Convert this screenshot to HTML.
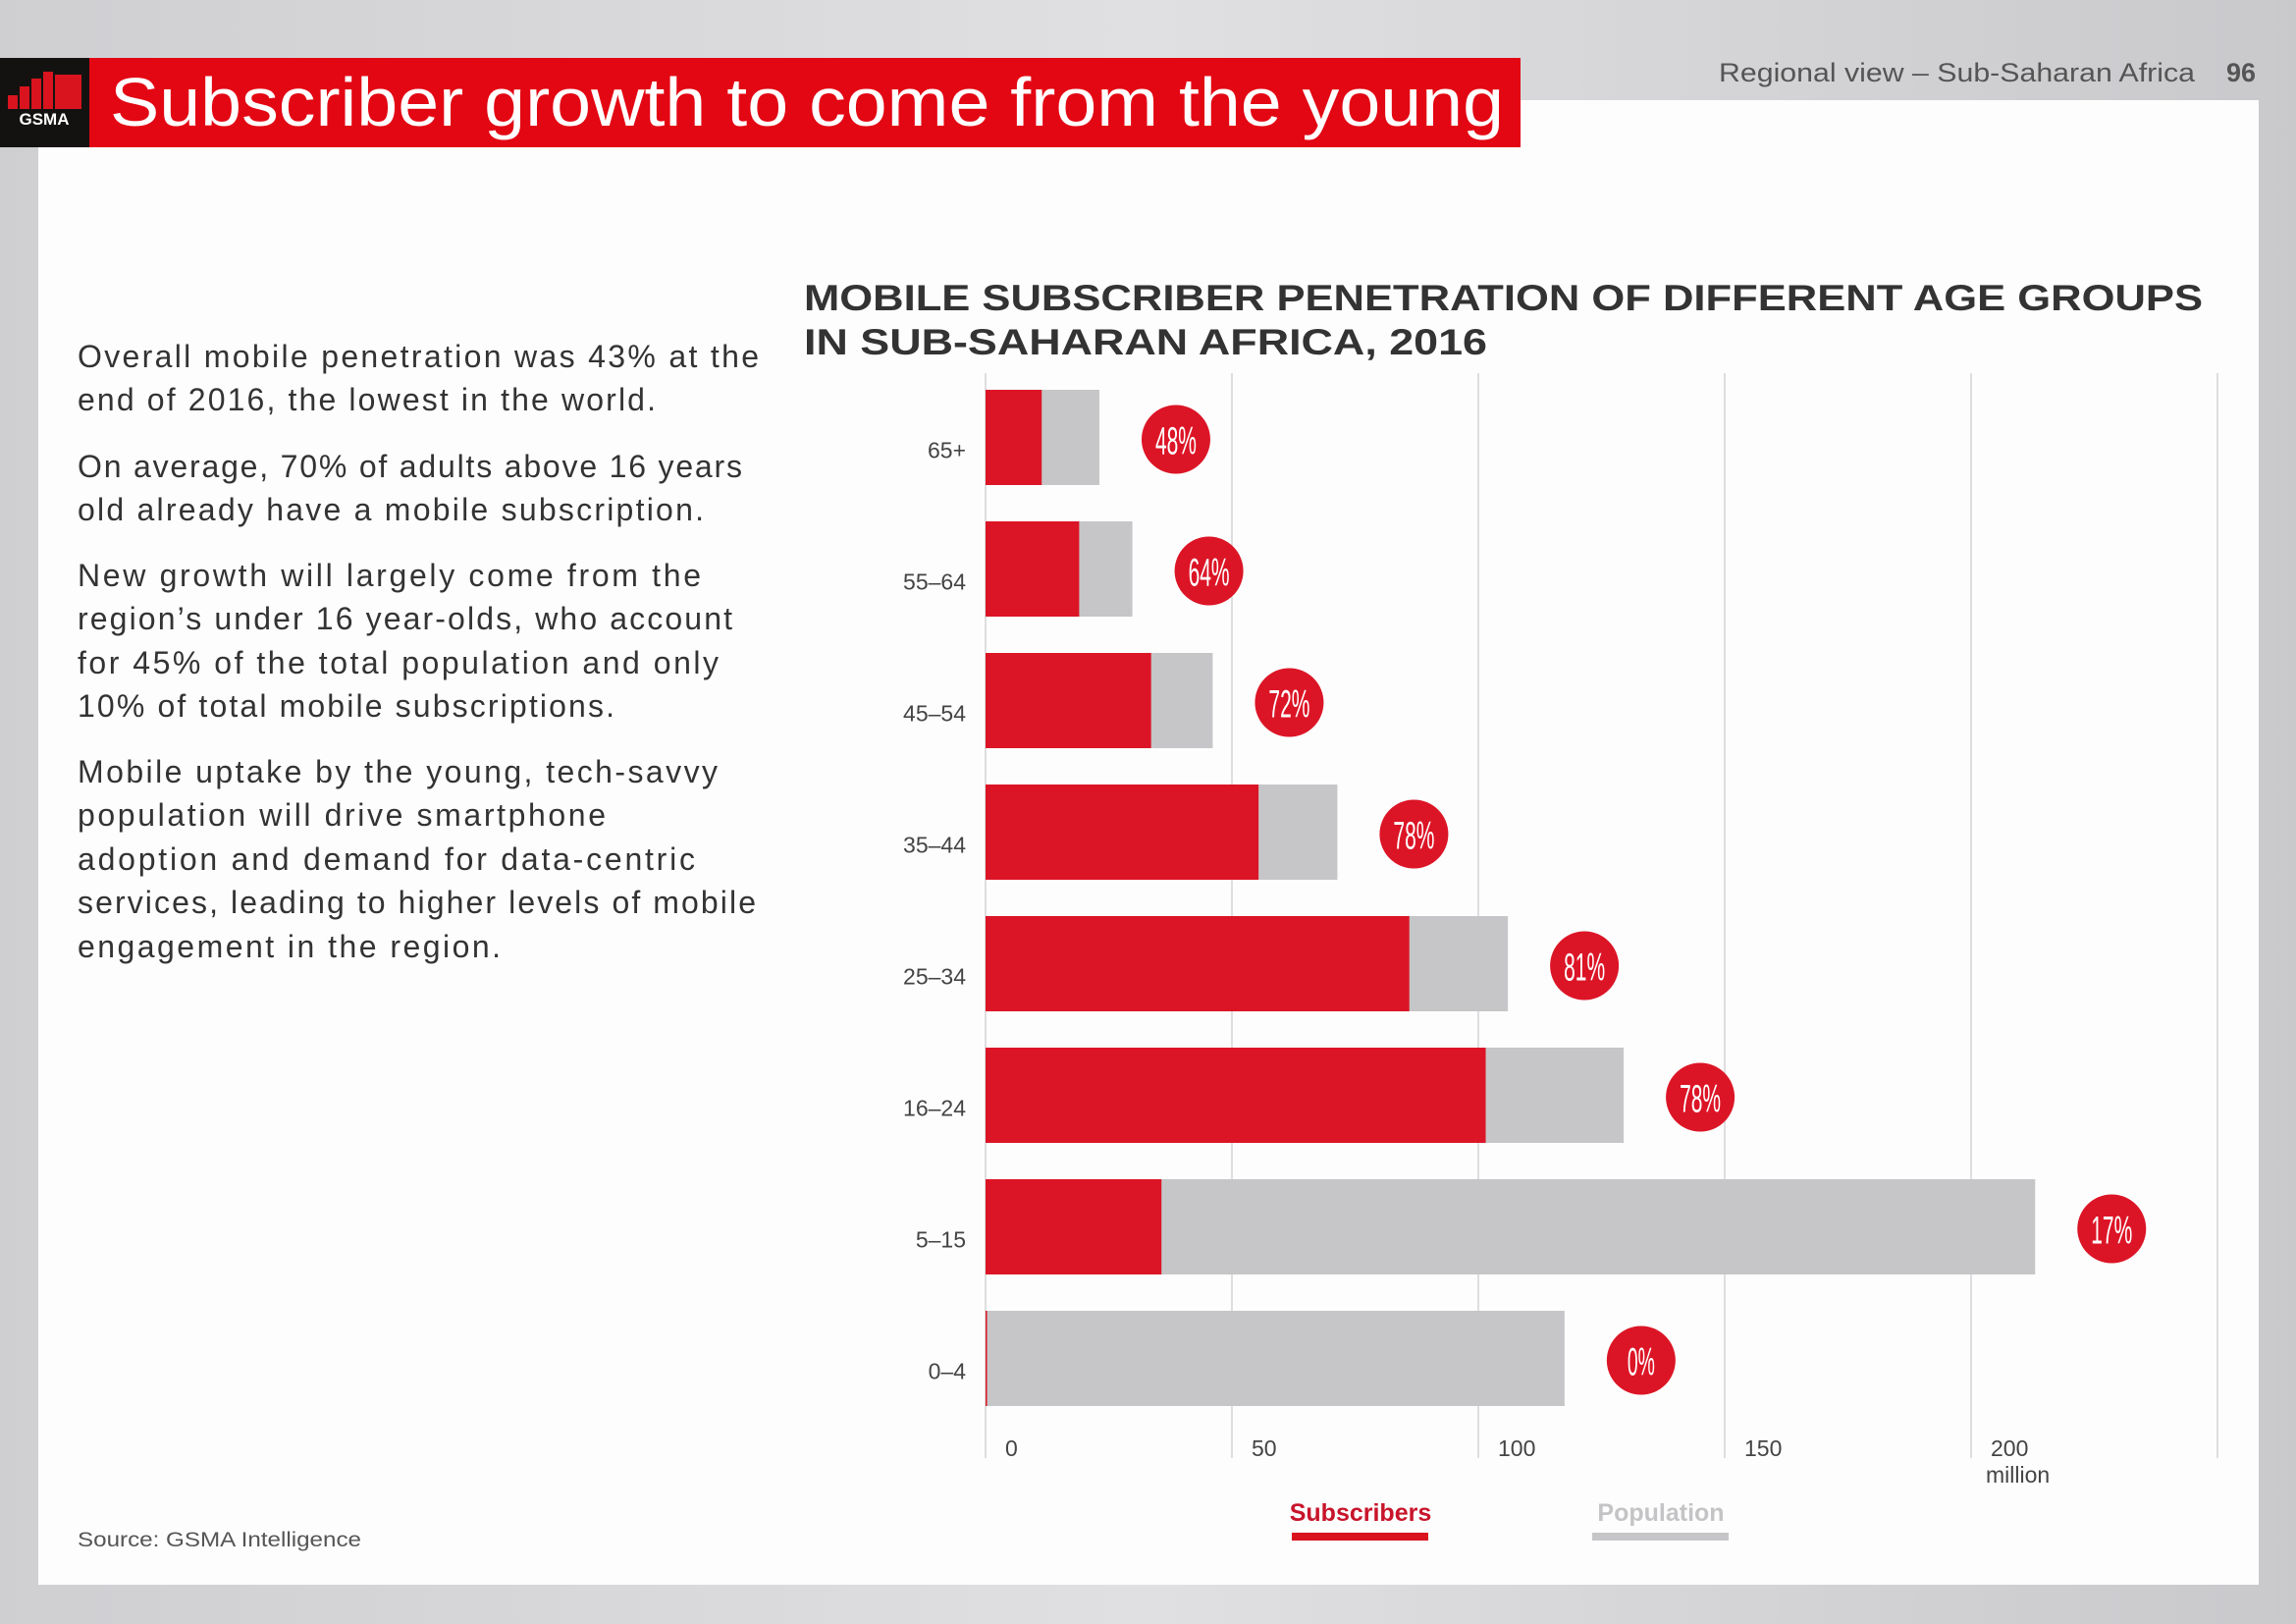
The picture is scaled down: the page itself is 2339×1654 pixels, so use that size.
<!DOCTYPE html>
<html><head><meta charset="utf-8"><style>
html,body{margin:0;padding:0;width:2339px;height:1654px;overflow:hidden;background:#d6d6d9;}
svg{display:block;font-family:"Liberation Sans",sans-serif;}
</style></head><body>
<svg id="pg" width="2339" height="1654" viewBox="0 0 2339 1654">
<defs><linearGradient id="bg" x1="0" y1="0" x2="1" y2="0"><stop offset="0" stop-color="#cfcfd2"/><stop offset="0.5" stop-color="#e0e0e2"/><stop offset="1" stop-color="#c9c9cc"/></linearGradient></defs>
<rect width="2339" height="1654" fill="url(#bg)"/>
<rect x="39" y="102" width="2262" height="1512" fill="#fdfdfd"/>
<g>
<rect x="0" y="59" width="91" height="91" fill="#141210"/>
<g fill="#d9141f"><rect x="8" y="97" width="10" height="14"/><rect x="20" y="88" width="10" height="23"/><rect x="32" y="80" width="10" height="31"/><rect x="44" y="73" width="10" height="38"/><rect x="56" y="76" width="27" height="35"/></g>
<text x="45" y="127" font-size="17" font-weight="bold" fill="#fff" text-anchor="middle">GSMA</text>
<rect x="91" y="59" width="1458" height="91" fill="#e30613"/>
<text x="112" y="128" font-size="70" fill="#fff" textLength="1420" lengthAdjust="spacingAndGlyphs">Subscriber growth to come from the young</text>
</g>
<text x="1751" y="83" font-size="27" fill="#555" textLength="485" lengthAdjust="spacingAndGlyphs">Regional view – Sub-Saharan Africa</text>
<text x="2298" y="83" font-size="27" font-weight="bold" fill="#555" text-anchor="end">96</text>
<g font-size="32" fill="#333" lengthAdjust="spacingAndGlyphs">
<text x="79" y="374" textLength="694">Overall mobile penetration was 43% at the</text>
<text x="79" y="418" textLength="589">end of 2016, the lowest in the world.</text>
<text x="79" y="486" textLength="677">On average, 70% of adults above 16 years</text>
<text x="79" y="530" textLength="638">old already have a mobile subscription.</text>
<text x="79" y="597" textLength="635">New growth will largely come from the</text>
<text x="79" y="641" textLength="667">region’s under 16 year-olds, who account</text>
<text x="79" y="686" textLength="653">for 45% of the total population and only</text>
<text x="79" y="730" textLength="547">10% of total mobile subscriptions.</text>
<text x="79" y="797" textLength="652">Mobile uptake by the young, tech-savvy</text>
<text x="79" y="841" textLength="538">population will drive smartphone</text>
<text x="79" y="886" textLength="629">adoption and demand for data-centric</text>
<text x="79" y="930" textLength="691">services, leading to higher levels of mobile</text>
<text x="79" y="975" textLength="431">engagement in the region.</text>
</g>
<text x="79" y="1575" font-size="21" fill="#555" textLength="289" lengthAdjust="spacingAndGlyphs">Source: GSMA Intelligence</text>
<g font-size="37" font-weight="bold" fill="#333">
<text x="819" y="316" textLength="1425" lengthAdjust="spacingAndGlyphs">MOBILE SUBSCRIBER PENETRATION OF DIFFERENT AGE GROUPS</text>
<text x="819" y="361" textLength="696" lengthAdjust="spacingAndGlyphs">IN SUB-SAHARAN AFRICA, 2016</text>
</g>
<g id="chart"></g>
<g>
<g><text x="1386" y="1549" font-size="25" font-weight="bold" fill="#c8142a" text-anchor="middle">Subscribers</text><rect x="1316" y="1561" width="139" height="8" fill="#d9141f"/></g>
<g><text x="1692" y="1549" font-size="25" font-weight="bold" fill="#c4c4c6" text-anchor="middle">Population</text><rect x="1622" y="1561" width="139" height="8" fill="#c6c6c8"/></g>
</g>
</svg>
<script>
const categories = ["65+","55–64","45–54","35–44","25–34","16–24","5–15","0–4"];
const subscribers = [11.4,19,33.6,55.4,86,101.5,35.7,0.3];
const population = [23.1,29.8,46.1,71.4,106,129.5,213,117.5];
const penetration = ["48%","64%","72%","78%","81%","78%","17%","0%"];
const xTicks = [0,50,100,150,200,250];
const xTickLabels = ["0","50","100","150","200",""];
const NS="http://www.w3.org/2000/svg";
const g=document.getElementById('chart');
const X0=1004, PX=5.02, Y0=445.5, STEP=134, BH=97;
const xs=v=>X0+v*PX, yc=i=>Y0+i*STEP;
function mk(t,a){const e=document.createElementNS(NS,t);for(const k in a)e.setAttribute(k,a[k]);g.appendChild(e);return e;}
xTicks.forEach((t,i)=>{
  const l=mk('line',{x1:xs(t),x2:xs(t),y1:380,y2:1485,stroke:'#d4d4d6','stroke-width':1.5});
  
  
  if(xTickLabels[i]){const tx=mk('text',{x:xs(t)+20,y:1483,'font-size':23,fill:'#444'});tx.textContent=xTickLabels[i];
  
  }
});
const mu=mk('text',{x:xs(200)+15,y:1510,'font-size':23,fill:'#444'});mu.textContent='million';


categories.forEach((c,i)=>{
  const y=yc(i);
  const lb=mk('text',{x:984,y:y+21,'font-size':23,fill:'#444','text-anchor':'end'});lb.textContent=c;
  
  
  const p=mk('rect',{x:X0,y:y-BH/2,width:population[i]*PX,height:BH,fill:'#c6c6c8'});
  
  
  const s=mk('rect',{x:X0,y:y-BH/2,width:subscribers[i]*PX,height:BH,fill:'#dc1526'});
  
  
  const cx=xs(population[i])+78;
  const ci=mk('circle',{cx:cx,cy:y+2,r:35,fill:'#dc1526'});
  
  
  const tt=mk('text',{x:cx,y:y+17,'font-size':40,fill:'#fff','text-anchor':'middle',textLength:penetration[i].length*14,lengthAdjust:'spacingAndGlyphs'});
  tt.textContent=penetration[i];
  
  
});
</script>
</body></html>
